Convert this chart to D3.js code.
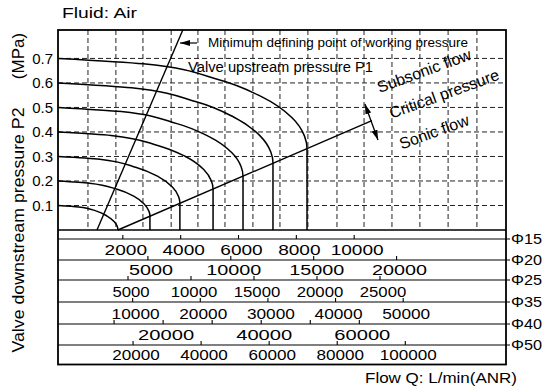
<!DOCTYPE html>
<html>
<head>
<meta charset="utf-8">
<script src="https://cdn.jsdelivr.net/npm/d3@7"></script>
<style>
body { margin:0; background:#fff; }
text { font-family:"Liberation Sans", Arial, sans-serif; fill:#000; }
</style>
</head>
<body>
<div id="chart"></div>
<script>
(function(){
//---------Data------------
// upstream pressure P1 of each curve (MPa)
const p1Levels = [0.1, 0.2, 0.3, 0.4, 0.5, 0.6, 0.7];
// curves: [flow on plot axis, P2 (MPa)]
const curveP01 = [[0,.100],[705,.094],[1325,.077],[1687,.057],[1936,.034],[2039,.014],[2060,0]];
const curveP02 = [[0,.200],[1081,.191],[2032,.166],[2588,.139],[2970,.105],[3128,.076],[3160,.056],[3160,0]];
const curveP03 = [[0,.300],[1433,.289],[2694,.255],[3432,.219],[3939,.174],[4148,.136],[4190,.109],[4190,0]];
const curveP04 = [[0,.400],[1823,.386],[3427,.345],[4365,.301],[5010,.247],[5277,.199],[5330,.167],[5330,0]];
const curveP05 = [[0,.500],[2175,.483],[4089,.434],[5209,.380],[5978,.315],[6296,.258],[6360,.219],[6360,0]];
const curveP06 = [[0,.600],[2527,.580],[4752,.523],[6052,.460],[6947,.384],[7316,.318],[7390,.272],[7390,0]];
const curveP07 = [[0,.700],[2928,.678],[5504,.614],[7011,.543],[8046,.458],[8474,.383],[8560,.332],[8560,0]];
const curves = [curveP01, curveP02, curveP03, curveP04, curveP05, curveP06, curveP07];

const criticalLine = [[2060, 0], [10790, 0.446]];
const minWorkingLine = [[1340, 0], [4290, 0.816]];
const crossArrow = [[10550, 0.514], [11000, 0.367]];

const yTicks = [0.1, 0.2, 0.3, 0.4, 0.5, 0.6, 0.7];
const gridFlow = [1030, 1990, 2920, 3890, 4810, 5740, 6700, 7630, 8590, 9590, 10520, 11480, 12440, 13410, 14400];

// nominal size scales under the plot
const sizeNames = ["Φ15", "Φ20", "Φ25", "Φ35", "Φ40", "Φ50"];
const sizeMax = [15250, 26600, 35000, 65200, 89900, 129600];
const ticksPhi15 = [2000, 4000, 6000, 8000, 10000];
const ticksPhi20 = [5000, 10000, 15000, 20000];
const ticksPhi25 = [5000, 10000, 15000, 20000, 25000];
const ticksPhi35 = [10000, 20000, 30000, 40000, 50000];
const ticksPhi40 = [10000, 20000, 30000, 40000, 50000, 60000];
const labelsPhi40 = [20000, 40000, 60000];
const ticksPhi50 = [20000, 40000, 60000, 80000, 100000];
const sizeTicks = [ticksPhi15, ticksPhi20, ticksPhi25, ticksPhi35, ticksPhi40, ticksPhi50];
const sizeLabels = [ticksPhi15, ticksPhi20, ticksPhi25, ticksPhi35, labelsPhi40, ticksPhi50];
//--------End of Data------

const width = 545, height = 392;
const frameL = 58, frameR = 506, frameT = 30, plotBottom = 230, tableBottom = 364.5;
const rowY = [239, 260, 280, 302, 324, 345];
// the printed digits are wider on some rows than on others
const digitW = [10.6, 11, 9.3, 9.6, 11.2, 9.5];

const svg = d3.select("#chart")
	.append("svg")
	.attr("width", width)
	.attr("height", height);

const x = d3.scaleLinear().domain([0, 15400]).range([frameL, frameR]);
const y = d3.scaleLinear().domain([0, 0.816]).range([plotBottom, frameT]);

const defs = svg.append("defs");
defs.append("marker")
	.attr("id", "head")
	.attr("viewBox", "0 0 10 6")
	.attr("refX", 10).attr("refY", 3)
	.attr("markerWidth", 10).attr("markerHeight", 6)
	.attr("markerUnits", "userSpaceOnUse")
	.attr("orient", "auto-start-reverse")
	.append("path")
	.attr("d", "M0,0 L10,3 L0,6 Z")
	.attr("fill", "#000");

// dashed grid
const grid = svg.append("g")
	.attr("stroke", "#222")
	.attr("stroke-width", 1)
	.attr("stroke-dasharray", "5,3");

grid.selectAll(".vgrid")
	.data(gridFlow)
	.enter().append("line")
	.attr("x1", d => x(d)).attr("x2", d => x(d))
	.attr("y1", frameT).attr("y2", plotBottom);

grid.selectAll(".hgrid")
	.data(yTicks)
	.enter().append("line")
	.attr("x1", frameL).attr("x2", frameR)
	.attr("y1", d => y(d)).attr("y2", d => y(d));

// curves
const line = d3.line()
	.x(d => x(d[0]))
	.y(d => y(d[1]))
	.curve(d3.curveMonotoneY);

svg.append("g")
	.selectAll("path")
	.data(curves)
	.enter().append("path")
	.attr("d", line)
	.attr("fill", "none")
	.attr("stroke", "#000")
	.attr("stroke-width", 1.5);

const straight = d3.line().x(d => x(d[0])).y(d => y(d[1]));

svg.append("path")
	.attr("d", straight(criticalLine))
	.attr("fill", "none").attr("stroke", "#000").attr("stroke-width", 1.4);

svg.append("path")
	.attr("d", straight(minWorkingLine))
	.attr("fill", "none").attr("stroke", "#000").attr("stroke-width", 1.4);

svg.append("path")
	.attr("d", straight(crossArrow))
	.attr("fill", "none").attr("stroke", "#000").attr("stroke-width", 1.3)
	.attr("marker-start", "url(#head)")
	.attr("marker-end", "url(#head)");

// arrow to the minimum working pressure line
svg.append("line")
	.attr("x1", 197).attr("y1", 43)
	.attr("x2", 180).attr("y2", 43)
	.attr("stroke", "#000").attr("stroke-width", 1.2)
	.attr("marker-end", "url(#head)");

svg.append("text")
	.attr("x", 208).attr("y", 47)
	.attr("font-size", 12)
	.attr("textLength", 260)
	.attr("lengthAdjust", "spacingAndGlyphs")
	.text("Minimum defining point of working pressure");

svg.append("text")
	.attr("x", 188).attr("y", 72)
	.attr("font-size", 14)
	.attr("textLength", 185)
	.attr("lengthAdjust", "spacingAndGlyphs")
	.text("Valve upstream pressure P1");

const slanted = [
	{ t: "Subsonic flow", cx: 426, cy: 76 },
	{ t: "Critical pressure", cx: 446, cy: 99 },
	{ t: "Sonic flow", cx: 436, cy: 137 }
];
svg.selectAll(".slant")
	.data(slanted)
	.enter().append("text")
	.attr("transform", d => "translate(" + d.cx + "," + d.cy + ") rotate(-20)")
	.attr("text-anchor", "middle")
	.attr("font-size", 16)
	.text(d => d.t);

// y tick labels
svg.selectAll(".ylab")
	.data(yTicks)
	.enter().append("text")
	.attr("x", 53)
	.attr("y", d => y(d))
	.attr("dy", "0.36em")
	.attr("text-anchor", "end")
	.attr("font-size", 15)
	.text(d => d3.format(".1f")(d));

svg.append("text")
	.attr("transform", "translate(24,56) rotate(-90)")
	.attr("text-anchor", "middle")
	.attr("font-size", 17)
	.text("(MPa)");

svg.append("text")
	.attr("transform", "translate(24,230) rotate(-90)")
	.attr("text-anchor", "middle")
	.attr("font-size", 17)
	.attr("textLength", 245)
	.attr("lengthAdjust", "spacingAndGlyphs")
	.text("Valve downstream pressure  P2");

svg.append("text")
	.attr("x", 62).attr("y", 18)
	.attr("font-size", 15)
	.attr("textLength", 75)
	.attr("lengthAdjust", "spacingAndGlyphs")
	.text("Fluid: Air");

svg.append("text")
	.attr("x", 365).attr("y", 383)
	.attr("font-size", 14)
	.attr("textLength", 152)
	.attr("lengthAdjust", "spacingAndGlyphs")
	.text("Flow Q: L/min(ANR)");

// nominal size scales
const table = svg.append("g");
sizeNames.forEach((name, i) => {
	const s = d3.scaleLinear().domain([0, sizeMax[i]]).range([65, frameR]);
	const ly = rowY[i];
	const nextY = i < rowY.length - 1 ? rowY[i + 1] : tableBottom;

	table.append("line")
		.attr("x1", frameL).attr("x2", frameR + 4)
		.attr("y1", ly).attr("y2", ly)
		.attr("stroke", "#000").attr("stroke-width", 1.2);

	table.selectAll(".tick" + i)
		.data(sizeTicks[i])
		.enter().append("line")
		.attr("x1", d => s(d)).attr("x2", d => s(d))
		.attr("y1", ly - 4).attr("y2", ly)
		.attr("stroke", "#000").attr("stroke-width", 1.1);

	table.selectAll(".lab" + i)
		.data(sizeLabels[i])
		.enter().append("text")
		.attr("x", d => s(d) + 3 - String(d).length * digitW[i] / 2)
		.attr("y", nextY - 5)
		.attr("font-size", 15)
		.attr("textLength", d => String(d).length * digitW[i])
		.attr("lengthAdjust", "spacingAndGlyphs")
		.text(d => d);

	table.append("text")
		.attr("x", 511).attr("y", ly)
		.attr("dy", "0.36em")
		.attr("font-size", 14)
		.attr("textLength", 31)
		.attr("lengthAdjust", "spacingAndGlyphs")
		.text(name);
});

// frame
svg.append("line")
	.attr("x1", frameL).attr("x2", frameR)
	.attr("y1", plotBottom).attr("y2", plotBottom)
	.attr("stroke", "#000").attr("stroke-width", 1.6);

svg.append("rect")
	.attr("x", frameL).attr("y", frameT)
	.attr("width", frameR - frameL)
	.attr("height", tableBottom - frameT)
	.attr("fill", "none")
	.attr("stroke", "#000")
	.attr("stroke-width", 1.8);
})();
</script>
</body>
</html>
